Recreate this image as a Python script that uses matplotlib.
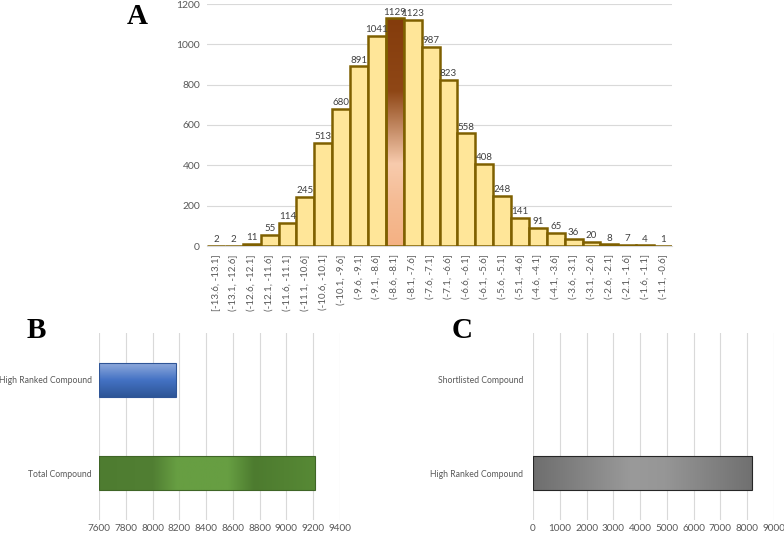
import numpy as np
import matplotlib
matplotlib.use("Agg")
import matplotlib.pyplot as plt
from matplotlib.colors import LinearSegmentedColormap

plt.rcParams['font.family'] = ['Lato', 'DejaVu Sans']

# panel A: docking score histogram
bins = ['[-13.6, -13.1]', '(-13.1, -12.6]', '(-12.6, -12.1]', '(-12.1, -11.6]',
        '(-11.6, -11.1]', '(-11.1, -10.6]', '(-10.6, -10.1]', '(-10.1, -9.6]',
        '(-9.6, -9.1]', '(-9.1, -8.6]', '(-8.6, -8.1]', '(-8.1, -7.6]',
        '(-7.6, -7.1]', '(-7.1, -6.6]', '(-6.6, -6.1]', '(-6.1, -5.6]',
        '(-5.6, -5.1]', '(-5.1, -4.6]', '(-4.6, -4.1]', '(-4.1, -3.6]',
        '(-3.6, -3.1]', '(-3.1, -2.6]', '(-2.6, -2.1]', '(-2.1, -1.6]',
        '(-1.6, -1.1]', '(-1.1, -0.6]']
counts = [2, 2, 11, 55, 114, 245, 513, 680, 891, 1041, 1129, 1123, 987, 823,
          558, 408, 248, 141, 91, 65, 36, 20, 8, 7, 4, 1]

# panel B
b_labels = ['High Ranked Compound', 'Total Compound']
b_values = [8175, 9212]

# panel C
c_labels = ['Shortlisted Compound', 'High Ranked Compound']
c_values = [0, 8180]

W, H = 784, 535
fig = plt.figure(figsize=(W / 100, H / 100), dpi=100)


def px_axes(x0, y0, x1, y1):
    return fig.add_axes([x0 / W, 1 - y1 / H, (x1 - x0) / W, (y1 - y0) / H])


def fill_gradient(ax, patch, cmap, vertical=True):
    x, y = patch.get_x(), patch.get_y()
    w, h = patch.get_width(), patch.get_height()
    if vertical:
        grad = np.linspace(0, 1, 256).reshape(-1, 1)
    else:
        grad = np.linspace(0, 1, 256).reshape(1, -1)
    im = ax.imshow(grad, cmap=cmap, aspect='auto', origin='lower',
                   extent=[x, x + w, y, y + h], zorder=patch.get_zorder() - 0.1)
    im.set_clip_path(patch)


txt_col = '#595959'
grid_col = '#d9d9d9'

# ---- A ----
ax = px_axes(207, 4, 672, 246)
xs = np.arange(len(counts))
bars = ax.bar(xs, counts, width=1.0, color='#FFE699', edgecolor='#7F6000',
              linewidth=1.8, zorder=3)
peak = int(np.argmax(counts))
bars[peak].set_facecolor('none')
brown = LinearSegmentedColormap.from_list(
    'brown', [(0, '#F4B183'), (0.2, '#F5BC95'), (0.36, '#F8CBAD'),
              (0.5, '#C9916C'), (0.68, '#8F4716'), (1, '#843C0C')])
fill_gradient(ax, bars[peak], brown, vertical=True)
for x, v in zip(xs, counts):
    ax.text(x, v + 8, str(v), ha='center', va='bottom', fontsize=7,
            color='#404040', zorder=4)
ax.set_xlim(-0.5, len(counts) - 0.5)
ax.set_ylim(0, 1200)
ax.set_yticks(range(0, 1201, 200))
ax.set_xticks(xs)
ax.set_xticklabels(bins, rotation=90, fontsize=7, color=txt_col)
ax.tick_params(axis='y', labelsize=7.5, colors=txt_col, length=0, pad=5)
ax.tick_params(axis='x', length=0, pad=6)
ax.grid(axis='y', color=grid_col, linewidth=0.8, zorder=0)
for s in ['top', 'right', 'left']:
    ax.spines[s].set_visible(False)
ax.spines['bottom'].set_color(grid_col)
ax.set_axisbelow(True)

# ---- B ----
axb = px_axes(99, 333, 340, 520)
bb = axb.barh([1, 0], b_values, height=0.36, zorder=3,
              edgecolor='#2F5597', linewidth=0.8)
axb.set_xlim(7600, 9400)
axb.set_ylim(-0.5, 1.5)
for p, v in zip(bb, b_values):
    p.set_x(7600)
    p.set_width(v - 7600)
blue = LinearSegmentedColormap.from_list('blue', ['#2D5596', '#4472C4', '#8FAADC'])
green = LinearSegmentedColormap.from_list(
    'green', [(0, '#4E7C30'), (0.25, '#517F33'), (0.36, '#679E42'),
              (0.6, '#679E42'), (0.72, '#4D7B2F'), (1, '#578935')])
bb[0].set_facecolor('none')
bb[1].set_facecolor('none')
bb[1].set_edgecolor('#3F6526')
fill_gradient(axb, bb[0], blue, vertical=True)
fill_gradient(axb, bb[1], green, vertical=False)
axb.set_xticks(range(7600, 9401, 200))
axb.set_yticks([1, 0])
axb.set_yticklabels(b_labels)
axb.tick_params(axis='y', labelsize=6.2, colors=txt_col, length=0, pad=5)
axb.tick_params(axis='x', labelsize=7.2, colors=txt_col, length=0, pad=3)
axb.grid(axis='x', color=grid_col, linewidth=0.8, zorder=0)
for s in axb.spines.values():
    s.set_visible(False)
axb.set_axisbelow(True)

# ---- C ----
axc = px_axes(533, 333, 774, 520)
cb = axc.barh([1, 0], c_values, height=0.36, zorder=3, edgecolor='#262626',
              linewidth=0.8)
axc.set_xlim(0, 9000)
axc.set_ylim(-0.5, 1.5)
gray = LinearSegmentedColormap.from_list(
    'gray', [(0, '#6E6E6E'), (0.45, '#9A9A9A'), (0.6, '#969696'), (1, '#707070')])
cb[1].set_facecolor('none')
fill_gradient(axc, cb[1], gray, vertical=False)
cb[0].set_visible(c_values[0] > 0)
axc.set_xticks(range(0, 9001, 1000))
axc.set_yticks([1, 0])
axc.set_yticklabels(c_labels)
axc.tick_params(axis='y', labelsize=6.2, colors=txt_col, length=0, pad=7)
axc.tick_params(axis='x', labelsize=7.2, colors=txt_col, length=0, pad=3)
axc.grid(axis='x', color=grid_col, linewidth=0.8, zorder=0)
for s in axc.spines.values():
    s.set_visible(False)
axc.set_axisbelow(True)

# panel letters
for letter, x, y in [('A', 137, 16), ('B', 36, 330), ('C', 462, 330)]:
    fig.text(x / W, 1 - y / H, letter, ha='center', va='center',
             fontsize=21, fontweight='bold', family='Liberation Serif')

fig.savefig('out.png', dpi=100)
